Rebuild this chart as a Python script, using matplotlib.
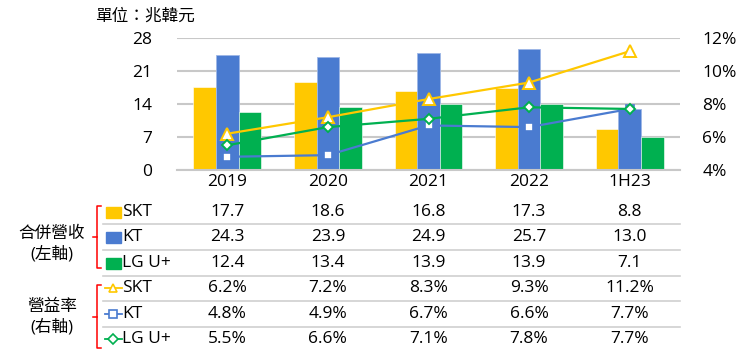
import numpy as np
import matplotlib
matplotlib.use('Agg')
import matplotlib.pyplot as plt
from matplotlib.lines import Line2D
from matplotlib.patches import Rectangle
from matplotlib.transforms import blended_transform_factory

plt.rcParams['font.family'] = ['Open Sans', 'Noto Sans CJK TC', 'DejaVu Sans']

categories = ['2019', '2020', '2021', '2022', '1H23']

# revenue, trillion won (left axis)
rev_skt = [17.7, 18.6, 16.8, 17.3, 8.8]
rev_kt = [24.3, 23.9, 24.9, 25.7, 13.0]
rev_lgu = [12.4, 13.4, 13.9, 13.9, 7.1]

# operating margin, % (right axis)
opm_skt = [6.2, 7.2, 8.3, 9.3, 11.2]
opm_kt = [4.8, 4.9, 6.7, 6.6, 7.7]
opm_lgu = [5.5, 6.6, 7.1, 7.8, 7.7]

YELLOW = '#FFC800'
BLUE = '#4A7BD0'
GREEN = '#00B050'
GRID = '#C8C8C8'

W, H = 750, 355

def fy(px):
    return 1 - px / H

def fx(px):
    return px / W

fig = plt.figure(figsize=(7.5, 3.55), dpi=100)
ax = fig.add_axes([fx(177), fy(170), fx(680) - fx(177), fy(38) - fy(170)])

x = np.arange(len(categories))
bw = 0.225
ax.bar(x - bw, rev_skt, bw, color=YELLOW, edgecolor='white', linewidth=0.4, zorder=2)
ax.bar(x, rev_kt, bw, color=BLUE, edgecolor='#9DB7E6', linewidth=0.6, zorder=2)
ax.bar(x + bw, rev_lgu, bw, color=GREEN, edgecolor='white', linewidth=0.4, zorder=2)

ax.set_xlim(-0.5, len(categories) - 0.5)
ax.set_ylim(0, 28)
ax.set_yticks([0, 7, 14, 21, 28])
ax.set_xticks(x)
ax.set_xticklabels(categories)
ax.tick_params(axis='both', length=0, labelsize=12.5)
ax.tick_params(axis='y', pad=18)
ax.tick_params(axis='x', pad=3)
ax.yaxis.grid(True, color=GRID, linewidth=1.5, zorder=0)
ax.set_axisbelow(True)
for s in ['top', 'right', 'left']:
    ax.spines[s].set_visible(False)
ax.spines['bottom'].set_color(GRID)
ax.spines['bottom'].set_linewidth(1.5)

ax2 = ax.twinx()
ax2.set_ylim(4, 12)
ax2.set_yticks([4, 6, 8, 10, 12])
ax2.set_yticklabels(['4%', '6%', '8%', '10%', '12%'])
ax2.tick_params(axis='y', length=0, labelsize=12.5, pad=16)
for s in ax2.spines.values():
    s.set_visible(False)

ax2.plot(x, opm_skt, color=YELLOW, lw=1.6, marker='^', ms=8, mfc='white', mec=YELLOW, mew=1.4, zorder=3)
ax2.plot(x, opm_kt, color=BLUE, lw=1.6, marker='s', ms=6, mfc='white', mec=BLUE, mew=1.2, zorder=3)
ax2.plot(x, opm_lgu, color=GREEN, lw=1.6, marker='D', ms=5.5, mfc='white', mec=GREEN, mew=1.4, zorder=3)

fig.text(fx(95), fy(17), '單位：兆韓元', fontsize=12, va='center', ha='left')

# data table under the chart
tr = blended_transform_factory(ax.transData, fig.transFigure)
row_y = [212, 237, 263, 288, 314, 339]
rows = [
    ([f'{v:.1f}' for v in rev_skt], 'SKT', 'bar', YELLOW, None),
    ([f'{v:.1f}' for v in rev_kt], 'KT', 'bar', BLUE, None),
    ([f'{v:.1f}' for v in rev_lgu], 'LG U+', 'bar', GREEN, None),
    ([f'{v:.1f}%' for v in opm_skt], 'SKT', 'line', YELLOW, '^'),
    ([f'{v:.1f}%' for v in opm_kt], 'KT', 'line', BLUE, 's'),
    ([f'{v:.1f}%' for v in opm_lgu], 'LG U+', 'line', GREEN, 'D'),
]
for (vals, name, kind, col, mk), py in zip(rows, row_y):
    for xi, v in zip(x, vals):
        fig.text(xi, fy(py), v, transform=tr, ha='center', va='center', fontsize=12.5)
    fig.text(fx(122), fy(py), name, ha='left', va='center', fontsize=12.5)
    if kind == 'bar':
        fig.add_artist(Rectangle((fx(106), fy(py + 5.5)), fx(15), 11 / H, color=col,
                                 transform=fig.transFigure))
    else:
        fig.add_artist(Line2D([fx(105), fx(122)], [fy(py), fy(py)], color=col, lw=1.3,
                              transform=fig.transFigure))
        fig.add_artist(Line2D([fx(113.5)], [fy(py)], marker=mk, ms=6 if mk != 'D' else 5,
                              mfc='white', mec=col, mew=1.2, linestyle='none',
                              transform=fig.transFigure))

for py in [224, 250, 276, 301, 327]:
    fig.add_artist(Line2D([fx(103), fx(680)], [fy(py), fy(py)], color='#D0D0D0', lw=1.2,
                          transform=fig.transFigure))

# red brackets for the two groups
for top, bot in [(206, 268), (285, 348)]:
    mid = (top + bot) / 2
    bx = 96.5
    fig.add_artist(Line2D([fx(bx + 4), fx(bx), fx(bx), fx(bx + 4)],
                          [fy(top), fy(top), fy(bot), fy(bot)], color='red', lw=1.1,
                          transform=fig.transFigure))
    fig.add_artist(Line2D([fx(bx), fx(bx - 4)], [fy(mid), fy(mid)], color='red', lw=1.1,
                          transform=fig.transFigure))

fig.text(fx(52), fy(244), '合併營收\n(左軸)', ha='center', va='center', fontsize=12, linespacing=1.3)
fig.text(fx(52), fy(317), '營益率\n(右軸)', ha='center', va='center', fontsize=12, linespacing=1.3)

fig.savefig('out.png', dpi=100)
